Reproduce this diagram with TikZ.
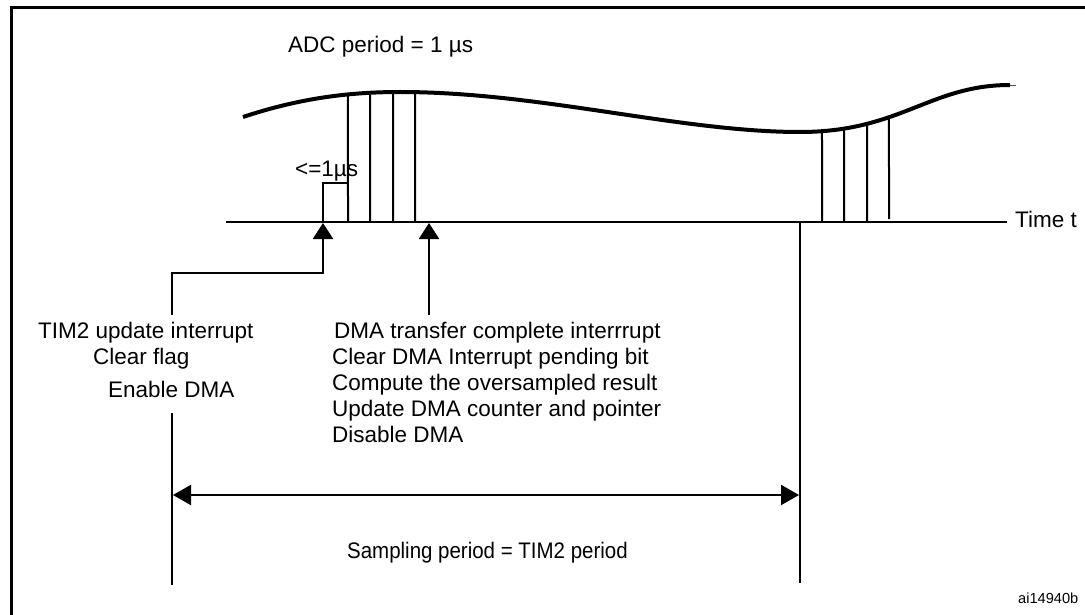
\documentclass[tikz,border=0pt]{standalone}
\usepackage{fontspec}
\setmainfont{Liberation Sans}
\usetikzlibrary{arrows.meta,intersections}
\begin{document}
\begin{tikzpicture}[x=1pt,y=-1pt,
  thinline/.style={line width=2pt},
  txt/.style={inner sep=0pt,anchor=base west,font=\fontsize{22.5}{27}\selectfont},
  headup/.style={-{Triangle[width=20pt,length=16pt]}},
  dimarrow/.style={{Triangle[width=20pt,length=18pt]}-{Triangle[width=20pt,length=18pt]}}]
\useasboundingbox (0,0) rectangle (1085,615);
% frame
\draw[line width=3pt] (11,615) -- (11,8) -- (1085,8);
% signal curve
\draw[line width=4pt,name path=curve] (243,117) .. controls (300,98) and (350,92) .. (400,92)
  .. controls (540,92) and (680,132) .. (800,132)
  .. controls (900,132) and (930,85) .. (1010,85);
\draw[magenta,line width=1pt] (1010,86) -- (1016,86);
% time axis
\coordinate (ax0) at (226,222);
\coordinate (ax1) at (1007,222);
\draw[thinline] (ax0) -- (ax1);
\node[txt] (timet) at (1015,227) {Time t};
% sample lines
\foreach \i/\x/\b in {1/348/222,2/370/222,3/393/222,4/415/222,5/822/222,6/844/222,7/867/222,8/889/219}{
  \path[name path=v\i] (\x,\b) -- (\x,40);
  \path[name intersections={of=curve and v\i,by=top\i}];
  \coordinate (bot\i) at (\x,\b);
  \draw[thinline] (bot\i) -- (top\i);
}
% <=1us bracket
\coordinate (br0) at (323,222);
\coordinate (br1) at (323,183);
\coordinate (br2) at (347,183);
\draw[thinline] (br0) -- (br1) -- (br2);
\node[txt] (lt) at (295,177) {<=1µs};
\node[txt] (adc) at (288,53) {ADC period = 1 µs};
% TIM2 arrow
\coordinate (tim2a) at (172,315);
\coordinate (tim2b) at (323,273);
\coordinate (tim2tip) at (323,223);
\draw[thinline,headup] (tim2a) |- (tim2b) -- (tim2tip);
% DMA arrow
\coordinate (dmaa) at (429,315);
\coordinate (dmatip) at (429,223);
\draw[thinline,headup] (dmaa) -- (dmatip);
% TIM2 text
\node[txt] (t1) at (38,338) {TIM2 update interrupt};
\node[txt] (t2) at (93,364) {Clear flag};
\node[txt] (t3) at (108,397) {Enable DMA};
% DMA text
\node[txt] (d1) at (334,338) {DMA transfer complete interrrupt};
\node[txt] (d2) at (332,364) {Clear DMA Interrupt pending bit};
\node[txt] (d3) at (332,390) {Compute the oversampled result};
\node[txt] (d4) at (332,416) {Update DMA counter and pointer};
\node[txt] (d5) at (332,442) {Disable DMA};
% sampling period
\coordinate (lv0) at (172,413);
\coordinate (lv1) at (172,585);
\coordinate (rv0) at (800,222);
\coordinate (rv1) at (800,583);
\draw[thinline] (lv0) -- (lv1);
\draw[thinline] (rv0) -- (rv1);
\coordinate (sa) at (173,495);
\coordinate (sb) at (799,495);
\draw[thinline,dimarrow] (sa) -- (sb);
\node[txt] (samp) at (347,558) {\scalebox{0.91}[1]{Sampling period = TIM2 period}};
\node[inner sep=0pt,anchor=base west,font=\fontsize{14.6}{17}\selectfont] (id) at (1018,603) {ai14940b};
\end{tikzpicture}
\end{document}
